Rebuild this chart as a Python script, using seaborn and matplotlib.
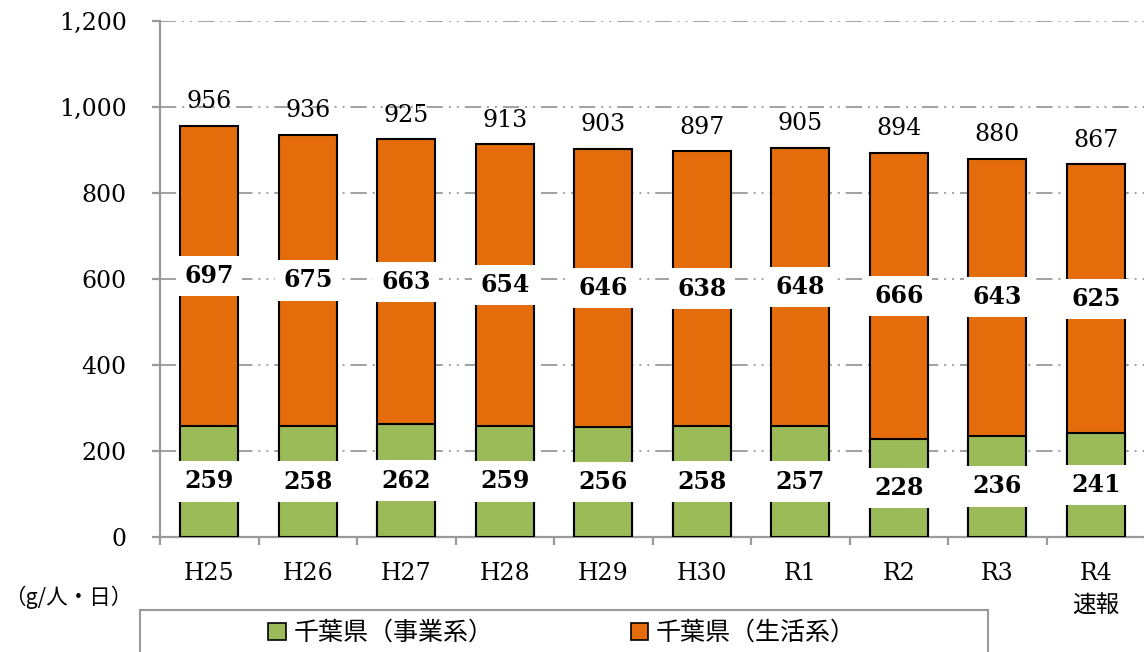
import numpy as np
import pandas as pd
import seaborn as sns
import matplotlib.pyplot as plt
from matplotlib.patches import Rectangle, Patch

# data
years = ['H25', 'H26', 'H27', 'H28', 'H29', 'H30', 'R1', 'R2', 'R3', 'R4\n速報']
business = [259, 258, 262, 259, 256, 258, 257, 228, 236, 241]      # 事業系
household = [697, 675, 663, 654, 646, 638, 648, 666, 643, 625]     # 生活系
totals = [956, 936, 925, 913, 903, 897, 905, 894, 880, 867]
yticks = [0, 200, 400, 600, 800, 1000, 1200]

green = '#9BBB59'
orange = '#E46C0A'
grid_gray = '#9a9a9a'

sns.set_style('white')
plt.rcParams['font.family'] = ['DejaVu Serif', 'Noto Sans CJK JP']
plt.rcParams['text.color'] = 'black'
plt.rcParams['xtick.labelcolor'] = 'black'
plt.rcParams['ytick.labelcolor'] = 'black'
cjk = ['Noto Sans CJK JP', 'DejaVu Sans']

df = pd.DataFrame({'year': years, 'business': business,
                   'household': household, 'total': totals})

fig = plt.figure(figsize=(11.44, 6.52), dpi=100)
ax = fig.add_axes([160 / 1144, 1 - 537 / 652, 985 / 1144, 516 / 652])

# orange bar goes to the total, green drawn over its lower part
sns.barplot(data=df, x='year', y='total', color=orange, saturation=1,
            width=0.59, edgecolor='black', linewidth=1.5, ax=ax, zorder=2)
sns.barplot(data=df, x='year', y='business', color=green, saturation=1,
            width=0.59, edgecolor='black', linewidth=1.5, ax=ax, zorder=3)

ax.set_ylim(0, 1200)
ax.set_xlim(-0.5, len(years) - 0.5)
ax.set_yticks(yticks)
ax.set_yticklabels([f'{v:,}' for v in yticks], fontsize=17, color='black')
ax.set_xlabel('')
ax.set_ylabel('')

# grid: dash-dot-dot
ax.set_axisbelow(True)
ax.grid(axis='y', color=grid_gray, linewidth=1.3,
        linestyle=(0, (9, 3.3, 1.1, 3.3, 1.1, 3.3)))
ax.grid(axis='x', visible=False)

for s in ['top', 'right']:
    ax.spines[s].set_visible(False)
for s in ['left', 'bottom']:
    ax.spines[s].set_color(grid_gray)
    ax.spines[s].set_linewidth(1.6)

ax.tick_params(axis='y', direction='out', length=6, width=1.6, color=grid_gray, left=True, pad=18)
ax.set_xticks(np.arange(-0.5, len(years), 1), minor=True)
ax.tick_params(axis='x', which='minor', direction='out', length=6, width=1.6,
               color=grid_gray, bottom=True)
ax.tick_params(axis='x', which='major', length=0, pad=18)
for lab in ax.get_xticklabels():
    lab.set_fontsize(17)
    lab.set_color('black')
    lab.set_verticalalignment('top')
    lab.set_linespacing(1.55)

# labels
for i in range(len(years)):
    ax.annotate(str(totals[i]), (i, totals[i]), xytext=(0, 9),
                textcoords='offset points', ha='center', va='bottom',
                fontsize=17, color='black', zorder=5)
    ax.text(i, business[i] + (totals[i] - business[i]) / 2, str(household[i]),
            ha='center', va='center', fontsize=17, fontweight='bold', color='black', zorder=5,
            bbox=dict(boxstyle='square,pad=0.35', fc='white', ec='none'))
    ax.text(i, business[i] / 2, str(business[i]),
            ha='center', va='center', fontsize=17, fontweight='bold', color='black', zorder=5,
            bbox=dict(boxstyle='square,pad=0.35', fc='white', ec='none'))

# unit
fig.text(68 / 1144, 1 - 597 / 652, '（g/人・日）', family=cjk, fontsize=15.5,
         ha='center', va='center', color='black')

# legend with frame clipped at bottom
fig.patches.append(Rectangle((140 / 1144, -0.05), 848 / 1144, 0.05 + 1 - 610 / 652,
                             transform=fig.transFigure, fill=False,
                             edgecolor=grid_gray, linewidth=1.5))
handles = [Patch(facecolor=green, edgecolor='black', linewidth=1.2),
           Patch(facecolor=orange, edgecolor='black', linewidth=1.2)]
fig.legend(handles, ['千葉県（事業系）', '千葉県（生活系）'], ncol=2, frameon=False,
           loc='center', bbox_to_anchor=(562 / 1144, 1 - 633 / 652),
           prop={'family': cjk, 'size': 18}, handlelength=0.7, handleheight=0.7,
           handletextpad=0.3, columnspacing=5.5, labelcolor='black')

fig.savefig('out.png', dpi=100)
